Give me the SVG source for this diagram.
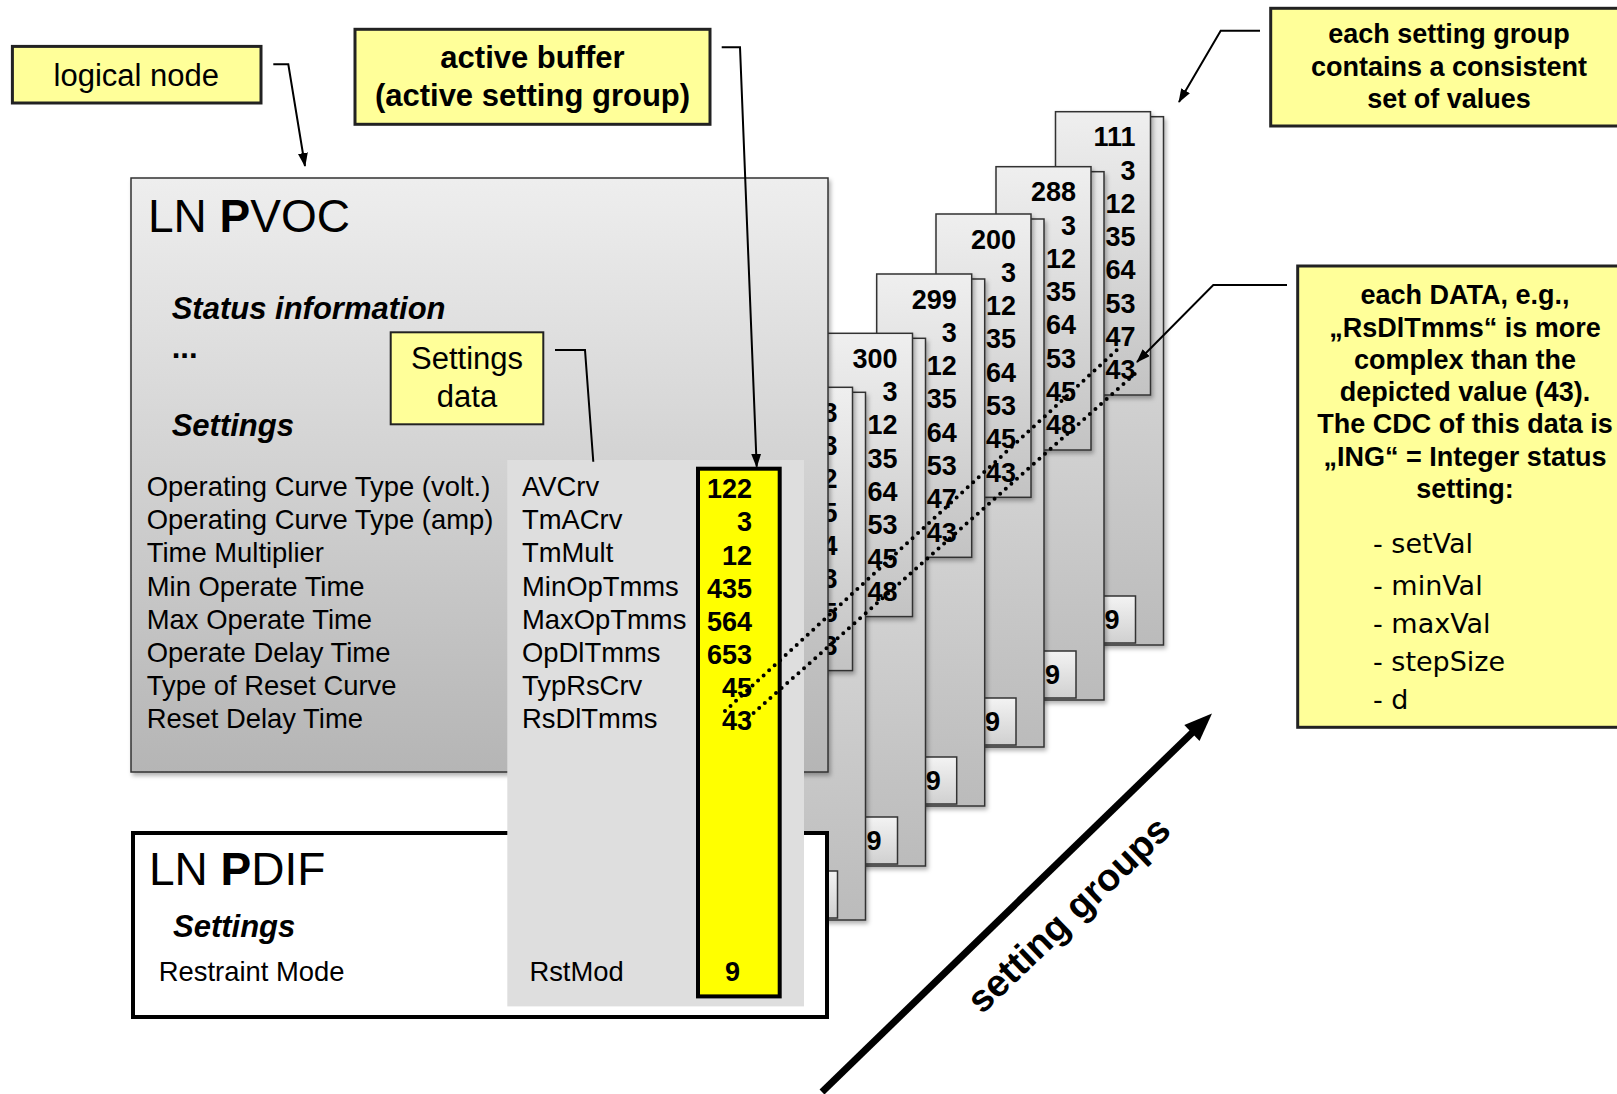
<svg xmlns="http://www.w3.org/2000/svg" width="1617" height="1094" viewBox="0 0 1617 1094">
<defs>
<linearGradient id="gCard" x1="0" y1="0" x2="0" y2="1"><stop offset="0" stop-color="#efefef"/><stop offset="1" stop-color="#c3c3c3"/></linearGradient>
<linearGradient id="gPanel" x1="0" y1="0" x2="0" y2="1"><stop offset="0" stop-color="#e9e9e9"/><stop offset="1" stop-color="#bbbbbb"/></linearGradient>
<linearGradient id="gBox" x1="0" y1="0" x2="0" y2="1"><stop offset="0" stop-color="#f3f3f3"/><stop offset="1" stop-color="#d0d0d0"/></linearGradient>
<linearGradient id="gLN" x1="0" y1="0" x2="0" y2="1"><stop offset="0" stop-color="#eeeeee"/><stop offset="1" stop-color="#b5b5b5"/></linearGradient>
<filter id="sh" x="-10%" y="-10%" width="130%" height="130%"><feDropShadow dx="2" dy="3" stdDeviation="2" flood-color="#000" flood-opacity="0.3"/></filter>
<marker id="ah" markerWidth="14" markerHeight="10" refX="13" refY="5" orient="auto" markerUnits="userSpaceOnUse"><path d="M0,0 L14,5 L0,10 z" fill="#000"/></marker>
</defs>
<style>
text{font-family:"Liberation Sans",Arial,sans-serif;fill:#000;}
.num{font-weight:bold;font-size:27px;text-anchor:end;}
.nine{font-weight:bold;font-size:27px;}
.card{fill:url(#gCard);stroke:#333;stroke-width:1.5;filter:url(#sh);}
.panel{fill:url(#gPanel);stroke:#333;stroke-width:1.5;filter:url(#sh);}
.box9{fill:url(#gBox);stroke:#333;stroke-width:1.5;}
.call{fill:#ffff99;stroke:#222;stroke-width:3;}
.lbl{font-size:31px;}
.lblb{font-size:31px;font-weight:bold;}
.bi{font-size:31px;font-weight:bold;font-style:italic;}
.row{font-size:27.4px;}
.cb{font-size:27px;font-weight:bold;text-anchor:middle;}
.li{font-family:"DejaVu Sans",Verdana,sans-serif;font-size:27px;}
.ln{fill:none;stroke:#000;stroke-width:2;}
.dot{fill:none;stroke:#000;stroke-width:4;stroke-linecap:round;stroke-dasharray:0 7.5;}
</style>

<g id="group1">
<rect class="panel" x="1068.5" y="116.7" width="95" height="528.3"/>
<rect class="card" x="1055.5" y="111.7" width="95" height="283.3"/>
<g class="num"><text x="1135.5" y="146.2">111</text><text x="1135.5" y="179.5">3</text><text x="1135.5" y="212.8">12</text><text x="1135.5" y="246.1">35</text><text x="1135.5" y="279.4">64</text><text x="1135.5" y="312.7">53</text><text x="1135.5" y="346">47</text><text x="1135.5" y="379.3">43</text></g>
<rect class="box9" x="1101.5" y="596" width="34" height="47"/>
<text class="nine" x="1104.5" y="629">9</text>
</g>

<g id="group2">
<rect class="panel" x="1009" y="171.7" width="95" height="528.3"/>
<rect class="card" x="996" y="166.7" width="95" height="283.3"/>
<g class="num"><text x="1076" y="201.2">288</text><text x="1076" y="234.5">3</text><text x="1076" y="267.8">12</text><text x="1076" y="301.1">35</text><text x="1076" y="334.4">64</text><text x="1076" y="367.7">53</text><text x="1076" y="401">45</text><text x="1076" y="434.3">48</text></g>
<rect class="box9" x="1042" y="651" width="34" height="47"/>
<text class="nine" x="1045" y="684">9</text>
</g>

<g id="group3">
<rect class="panel" x="949" y="219" width="95" height="528"/>
<rect class="card" x="936" y="214" width="95" height="283.3"/>
<g class="num"><text x="1016" y="248.5">200</text><text x="1016" y="281.8">3</text><text x="1016" y="315.1">12</text><text x="1016" y="348.4">35</text><text x="1016" y="381.7">64</text><text x="1016" y="415">53</text><text x="1016" y="448.3">45</text><text x="1016" y="481.6">43</text></g>
<rect class="box9" x="982" y="698" width="34" height="47"/>
<text class="nine" x="985" y="731">9</text>
</g>

<g id="group4">
<rect class="panel" x="889.7" y="279" width="95" height="527"/>
<rect class="card" x="876.7" y="274" width="95" height="283.3"/>
<g class="num"><text x="956.7" y="308.5">299</text><text x="956.7" y="341.8">3</text><text x="956.7" y="375.1">12</text><text x="956.7" y="408.4">35</text><text x="956.7" y="441.7">64</text><text x="956.7" y="475">53</text><text x="956.7" y="508.3">47</text><text x="956.7" y="541.6">43</text></g>
<rect class="box9" x="922.7" y="757" width="34" height="47"/>
<text class="nine" x="925.7" y="790">9</text>
</g>

<g id="group5">
<rect class="panel" x="830.5" y="338.3" width="95" height="527.7"/>
<rect class="card" x="817.5" y="333.3" width="95" height="283.3"/>
<g class="num"><text x="897.5" y="367.8">300</text><text x="897.5" y="401.1">3</text><text x="897.5" y="434.4">12</text><text x="897.5" y="467.7">35</text><text x="897.5" y="501">64</text><text x="897.5" y="534.3">53</text><text x="897.5" y="567.6">45</text><text x="897.5" y="600.9">48</text></g>
<rect class="box9" x="863.5" y="817" width="34" height="47"/>
<text class="nine" x="866.5" y="850">9</text>
</g>

<g id="group6">
<rect class="panel" x="770.5" y="392.3" width="95" height="527.7"/>
<rect class="card" x="757.5" y="387.3" width="95" height="283.3"/>
<g class="num"><text x="837.5" y="421.8">3</text><text x="837.5" y="455.1">3</text><text x="837.5" y="488.4">2</text><text x="837.5" y="521.7">5</text><text x="837.5" y="555">4</text><text x="837.5" y="588.3">3</text><text x="837.5" y="621.6">5</text><text x="837.5" y="654.9">3</text></g>
<rect class="box9" x="803.5" y="871" width="34" height="47"/>
</g>

<g id="ln-pvoc">
<rect x="131" y="178" width="697" height="594" fill="url(#gLN)" stroke="#333" stroke-width="1.5" filter="url(#sh)"/>
<text x="148" y="231.7" font-size="46">LN <tspan font-weight="bold">P</tspan>VOC</text>
<text class="bi" x="171.7" y="319">Status information</text>
<text x="171.7" y="358" font-size="31" font-weight="bold">...</text>
<text class="bi" x="171.7" y="436">Settings</text>
<g class="row">
<text x="146.8" y="496">Operating Curve Type (volt.)</text>
<text x="146.8" y="529.2">Operating Curve Type (amp)</text>
<text x="146.8" y="562.4">Time Multiplier</text>
<text x="146.8" y="595.6">Min Operate Time</text>
<text x="146.8" y="628.8">Max Operate Time</text>
<text x="146.8" y="662">Operate Delay Time</text>
<text x="146.8" y="695.2">Type of Reset Curve</text>
<text x="146.8" y="728.4">Reset Delay Time</text>
</g>
</g>

<g id="ln-pdif">
<rect x="133" y="833" width="694" height="184" fill="#fff" stroke="#000" stroke-width="4"/>
<text x="149" y="884.5" font-size="46">LN <tspan font-weight="bold">P</tspan>DIF</text>
<text class="bi" x="173" y="936.7">Settings</text>
<text class="row" x="158.8" y="980.5">Restraint Mode</text>
</g>

<g id="active-group">
<rect x="507.3" y="460" width="296.7" height="546.4" fill="#dedede"/>
<g class="row">
<text x="522" y="496">AVCrv</text>
<text x="522" y="529.2">TmACrv</text>
<text x="522" y="562.4">TmMult</text>
<text x="522" y="595.6">MinOpTmms</text>
<text x="522" y="628.8">MaxOpTmms</text>
<text x="522" y="662">OpDlTmms</text>
<text x="522" y="695.2">TypRsCrv</text>
<text x="522" y="728.4">RsDlTmms</text>
<text x="529.4" y="980.5">RstMod</text>
</g>
<rect x="698" y="468.7" width="81.7" height="527.7" fill="#ffff00" stroke="#000" stroke-width="4"/>
<g class="num"><text x="752" y="498.3">122</text><text x="752" y="531.4">3</text><text x="752" y="564.5">12</text><text x="752" y="597.6">435</text><text x="752" y="630.7">564</text><text x="752" y="663.8">653</text><text x="752" y="696.9">45</text><text x="752" y="730">43</text></g>
<text class="nine" x="725" y="980.5">9</text>
</g>

<g id="logical-node">
<rect class="call" x="12.4" y="46.4" width="248.6" height="56.6"/>
<text class="lbl" x="53.6" y="85.6">logical node</text>
</g>

<g id="active-buffer">
<rect class="call" x="355" y="29.3" width="355" height="95"/>
<text class="lblb" x="532.5" y="68.3" text-anchor="middle">active buffer</text>
<text class="lblb" x="532.5" y="105.8" text-anchor="middle">(active setting group)</text>
</g>

<g id="settings-data">
<rect x="390.7" y="332.3" width="152.6" height="92" fill="#ffff99" stroke="#222" stroke-width="2"/>
<text class="lbl" x="467" y="369" text-anchor="middle">Settings</text>
<text class="lbl" x="467" y="406.5" text-anchor="middle">data</text>
</g>

<g id="note-groups">
<rect class="call" x="1270.7" y="8.3" width="360" height="117.7"/>
<text class="cb" x="1449" y="43.3">each setting group</text>
<text class="cb" x="1449" y="75.8">contains a consistent</text>
<text class="cb" x="1449" y="108.3">set of values</text>
</g>

<g id="note-data">
<rect class="call" x="1297.7" y="266" width="340" height="461.3"/>
<text class="cb" x="1465" y="304">each DATA, e.g.,</text>
<text class="cb" x="1465" y="336.5">„<tspan font-weight="900">RsDlTmms</tspan>“ is more</text>
<text class="cb" x="1465" y="368.5">complex than the</text>
<text class="cb" x="1465" y="400.5">depicted value (43).</text>
<text class="cb" x="1465" y="433">The CDC of this data is</text>
<text class="cb" x="1465" y="465.5">„ING“ = Integer status</text>
<text class="cb" x="1465" y="498">setting:</text>
<text class="li" x="1373" y="553.3">- setVal</text>
<text class="li" x="1373" y="595">- minVal</text>
<text class="li" x="1373" y="633.3">- maxVal</text>
<text class="li" x="1373" y="671">- stepSize</text>
<text class="li" x="1373" y="708.5">- d</text>
</g>

<g id="setting-groups-label">
<text x="982" y="1015" font-size="38" font-weight="bold" transform="rotate(-43.7 982 1015)">setting groups</text>
</g>

<g id="connectors">
<polyline class="ln" points="273.3,64.3 288.3,64.3 305,166" marker-end="url(#ah)"/>
<polyline class="ln" points="721.7,47.3 740,47.3 756.7,466.7" marker-end="url(#ah)"/>
<polyline class="ln" points="555,350 585,350 593.3,461.7"/>
<polyline class="ln" points="1260,30.7 1220.7,30.7 1179,102" marker-end="url(#ah)"/>
<polyline class="ln" points="1287,285 1213.3,285 1137,362" marker-end="url(#ah)"/>
<line class="dot" x1="725" y1="711" x2="1120" y2="347"/>
<line class="dot" x1="748" y1="718" x2="1137" y2="372"/>
<line x1="822" y1="1092" x2="1196" y2="729" stroke="#000" stroke-width="7"/>
<polygon points="1212,713.5 1199.5,740.9 1184.3,725.1" fill="#000"/>
</g>
</svg>
